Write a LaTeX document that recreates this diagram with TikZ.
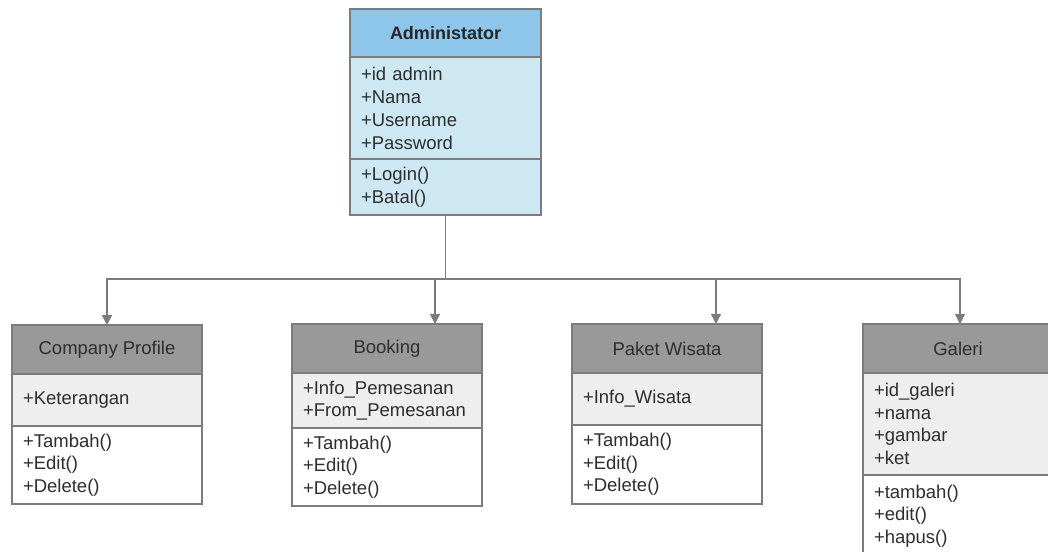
\documentclass[tikz,border=0pt]{standalone}
\usepackage{fontspec}
\setmainfont{Liberation Sans}
\usetikzlibrary{positioning, arrows.meta}

\definecolor{linegray}{HTML}{7C7C7C}
\definecolor{hdrblue}{HTML}{8EC5EA}
\definecolor{bodyblue}{HTML}{CDE8F3}
\definecolor{hdrgray}{HTML}{999999}
\definecolor{attrgray}{HTML}{EEEEEE}
\definecolor{txtgray}{HTML}{2E2E2E}

\tikzset{
  box/.style={draw=linegray, line width=1.3, minimum width=190, inner sep=0,
    outer sep=0, text=txtgray, font=\fontsize{18.5}{22.5}\selectfont},
  hdr/.style={box, fill=hdrgray, minimum height=49},
  part/.style={box, anchor=north, text width=168, align=left, inner xsep=11},
  link/.style={draw=linegray, line width=1.2, -{Triangle[width=10,length=10]}}
}

\begin{document}
\begin{tikzpicture}[x=1pt, y=-1pt]
\useasboundingbox (0,0) rectangle (1048,551);
\clip (0,0) rectangle (1048,551);

% Administator
\node[hdr, fill=hdrblue, minimum width=191, minimum height=48, anchor=north,
  font=\fontsize{18}{22.5}\selectfont\bfseries, text=black!85] (admin) at (445.5,9) {Administator};
\node[part, fill=bodyblue, minimum width=191, text width=169, minimum height=102,
  font=\fontsize{18.5}{23}\selectfont] (adminA) at (admin.south)
  {+id admin\\+Nama\\+Username\\+Password};
\node[part, fill=bodyblue, minimum width=191, text width=169, minimum height=56,
  font=\fontsize{18.5}{23}\selectfont] (adminO) at (adminA.south)
  {+Login()\\+Batal()};

% Company Profile
\node[hdr, anchor=north] (cp) at (107,325) {Company Profile};
\node[part, fill=attrgray, minimum height=52] (cpA) at (cp.south) {+Keterangan};
\node[part, fill=white, minimum height=78] (cpO) at (cpA.south)
  {+Tambah()\\+Edit()\\+Delete()};

% Booking
\node[hdr, anchor=north] (bk) at (387,324) {Booking};
\node[part, fill=attrgray, minimum height=55] (bkA) at (bk.south)
  {+Info\_Pemesanan\\+From\_Pemesanan};
\node[part, fill=white, minimum height=78] (bkO) at (bkA.south)
  {+Tambah()\\+Edit()\\+Delete()};

% Paket Wisata
\node[hdr, anchor=north] (pw) at (667,324) {Paket Wisata};
\node[part, fill=attrgray, minimum height=52] (pwA) at (pw.south) {+Info\_Wisata};
\node[part, fill=white, minimum height=79] (pwO) at (pwA.south)
  {+Tambah()\\+Edit()\\+Delete()};

% Galeri
\node[hdr, anchor=north] (gl) at (958,324) {Galeri};
\node[part, fill=attrgray, minimum height=102] (glA) at (gl.south)
  {+id\_galeri\\+nama\\+gambar\\+ket};
\node[part, fill=white, minimum height=82] (glO) at (glA.south)
  {+tambah()\\+edit()\\+hapus()};

% connectors
\coordinate (bus) at (adminO.south |- 0,279);
\draw[draw=linegray, line width=1.2] (adminO.south) -- (bus);
\draw[link] (bus) -| (cp.north);
\draw[link] (bus) -| ([xshift=48]bk.north);
\draw[link] (bus) -| ([xshift=49]pw.north);
\draw[link] (bus) -| ([xshift=2]gl.north);
\end{tikzpicture}
\end{document}
